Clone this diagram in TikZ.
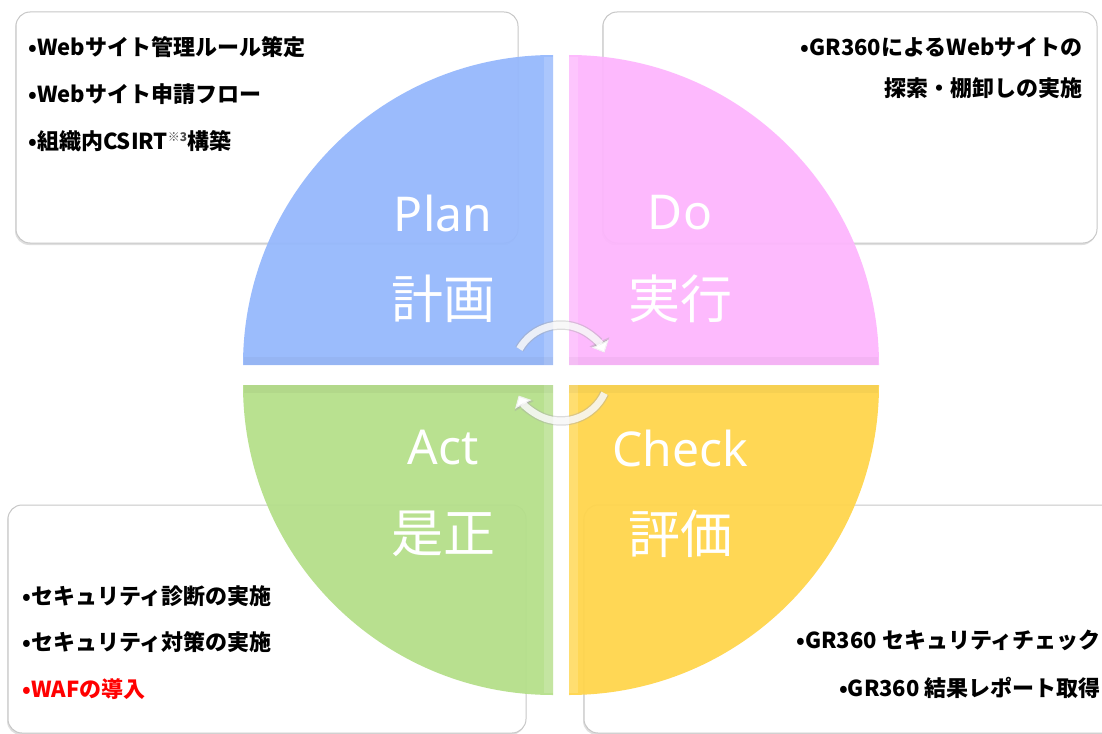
\documentclass[tikz,border=0pt]{standalone}
\usepackage{fontspec}
\setmainfont{Noto Sans}
\newfontfamily\jp{Noto Sans CJK JP}
\usetikzlibrary{arrows.meta,shadows}

\definecolor{planblue}{HTML}{96B8FC}
\definecolor{dopink}{HTML}{FDB6FD}
\definecolor{checkyellow}{HTML}{FFD54C}
\definecolor{actgreen}{HTML}{B5DF8A}

\begin{document}
\begin{tikzpicture}[x=1pt,y=1pt,node distance=86pt,>={Triangle[length=10pt,width=18pt]}]
		\tikzstyle{info box}=[rounded corners=14pt, fill=white, draw=black!22, line width=1pt, drop shadow={shadow xshift=-1pt,shadow yshift=-2pt,opacity=.25}]
		\tikzstyle{quadrant}=[fill opacity=0.95]
		\tikzstyle{rim light}=[fill=white, fill opacity=0.16]
		\tikzstyle{rim dark}=[fill=black, fill opacity=0.035]
		\tikzstyle{phase}=[text=white, font=\fontsize{48}{48}\selectfont]
		\tikzstyle{phase jp}=[text=white, font=\jp\fontsize{52}{52}\selectfont]
		\tikzstyle{item text}=[inner sep=0pt, font=\jp\bfseries\fontsize{22}{22}\selectfont]
		\tikzstyle{cycle outer}=[->, line width=9.5pt, draw=black!35, draw opacity=.4, >={Triangle[length=12pt,width=21pt]}]
		\tikzstyle{cycle inner}=[->, line width=7pt, draw=white, draw opacity=.8]

		\useasboundingbox (0,0) rectangle (1102,-733);

		% text boxes
		\draw[info box] (16,-12) rectangle (518,-243);
		\draw[info box] (603,-12) rectangle (1097,-243);
		\draw[info box] (8,-505) rectangle (526,-733);
		\draw[info box] (584,-505) rectangle (1130,-733);

		% the four quarters
		\fill[quadrant, planblue] (553,-365) -- (243,-365) arc (180:90:310) -- cycle;
		\fill[quadrant, dopink] (569,-365) -- (569,-55) arc (90:0:310) -- cycle;
		\fill[quadrant, checkyellow] (569,-385) -- (879,-385) arc (0:-90:310) -- cycle;
		\fill[quadrant, actgreen] (553,-385) -- (553,-695) arc (270:180:310) -- cycle;
		\fill[rim light] (544,-57) rectangle (553,-365);
		\fill[rim light] (569,-57) rectangle (578,-365);
		\fill[rim light] (569,-385) rectangle (578,-693);
		\fill[rim light] (544,-385) rectangle (553,-693);
		\fill[rim dark] (244,-357) rectangle (553,-365);
		\fill[rim dark] (569,-357) rectangle (878,-365);
		\fill[rim dark] (569,-385) rectangle (878,-393);
		\fill[rim dark] (244,-385) rectangle (553,-393);

		\node[phase] (plan) at (443,-213) {Plan};
		\node[phase jp] (keikaku) [below of=plan] {計画};
		\node[phase] (do) at (680,-213) {Do};
		\node[phase jp] (jikkou) [below of=do] {実行};
		\node[phase] (act) at (443,-448) {Act};
		\node[phase jp] (zesei) [below of=act] {是正};
		\node[phase] (check) at (680,-448) {Check};
		\node[phase jp] (hyouka) [below of=check] {評価};

		% cycle arrows
		\coordinate (hub) at (561,-373);
		\draw[cycle outer] ([shift={(150:48)}]hub) arc (150:25:48);
		\draw[cycle inner] ([shift={(150:48)}]hub) arc (150:25:48);
		\draw[cycle outer] ([shift={(-25:48)}]hub) arc (-25:-152:48);
		\draw[cycle inner] ([shift={(-25:48)}]hub) arc (-25:-152:48);

		\node[item text, anchor=base west] (tl1) at (28,-56) {•Webサイト管理ルール策定};
		\node[item text, anchor=base west] (tl2) at ([yshift=-46.5pt]tl1.base west) {•Webサイト申請フロー};
		\node[item text, anchor=base west] (tl3) at ([yshift=-46.5pt]tl2.base west) {•組織内CSIRT\raisebox{7pt}{\fontsize{12}{12}\selectfont\color{black!70}※3}構築};

		\node[item text, anchor=base east] (tr1) at (1083,-56) {•GR360によるWebサイトの};
		\node[item text, anchor=base east] (tr2) at ([yshift=-41pt]tr1.base east) {探索・棚卸しの実施};

		\node[item text, anchor=base west] (bl1) at (22,-604) {•セキュリティ診断の実施};
		\node[item text, anchor=base west] (bl2) at ([yshift=-46pt]bl1.base west) {•セキュリティ対策の実施};
		\node[item text, anchor=base west, text=red] (bl3) at ([yshift=-47pt]bl2.base west) {•WAFの導入};

		\node[item text, anchor=base east] (br1) at (1101,-648) {•GR360 セキュリティチェック};
		\node[item text, anchor=base east] (br2) at ([yshift=-48pt]br1.base east) {•GR360 結果レポート取得};
	\end{tikzpicture}
\end{document}
